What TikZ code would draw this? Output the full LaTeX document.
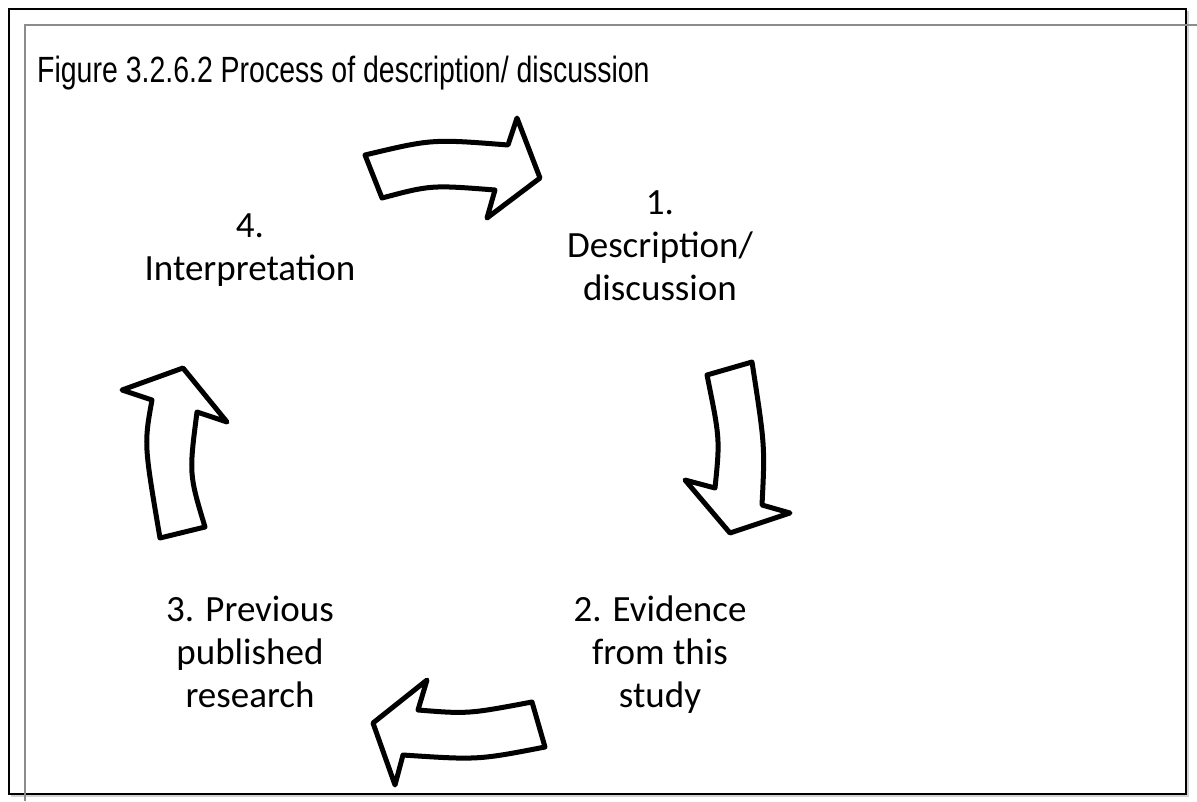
\documentclass[tikz,border=0pt]{standalone}
\usepackage{fontspec}
\setmainfont{Carlito}
\newfontfamily\titlefont[FakeStretch=0.78]{Liberation Sans}
\usetikzlibrary{positioning}

\begin{document}
\begin{tikzpicture}[x=1pt, y=-1pt,
    blockarrow/.style={draw=black, fill=white, line width=5pt, line join=round},
    steplabel/.style={align=center, inner sep=0pt, anchor=base, font=\fontsize{37}{43}\selectfont}]
  \useasboundingbox (0,0) rectangle (1197,801);

  % frame
  \draw[gray!35, line width=2pt] (1188,11) -- (1188,796) -- (11,796);
  \draw[black, line width=2.2pt] (9,9) rectangle (1186,794);
  \draw[gray!90, line width=2pt] (1197,25) -- (25,25) -- (25,801);

  \node[anchor=base west, inner sep=0pt, font=\titlefont\fontsize{36.5}{40}\selectfont] (title) at (37,82) {Figure 3.2.6.2 Process of description/ discussion};

  % steps (anchored on the baseline of the last line)
  \node[steplabel] (desc) at (660,300) {1.\\Description/\\discussion};
  \node[steplabel] (evid) at (660,707) {2. Evidence\\from this\\study};
  \node[steplabel] (prev) at (250,707) {3. Previous\\published\\research};
  \node[steplabel] (interp) at (250,280) {4.\\Interpretation};

  % block arrows
  \draw[blockarrow] (365,155) .. controls (432,139) .. (508,145) -- (517,118) -- (540,178)
    -- (487,218) -- (495,190) .. controls (431,185) .. (382,198) -- cycle;
  \draw[blockarrow] (707,375) -- (752,362) .. controls (765,446) .. (762,505) -- (790,513)
    -- (730,533) -- (685,480) -- (715,488) .. controls (720,439) .. (707,375) -- cycle;
  \draw[blockarrow] (532,702) -- (545,747) .. controls (478,760) .. (403,755) -- (395,785)
    -- (373,723) -- (427,680) -- (418,710) .. controls (468,714) .. (532,702) -- cycle;
  \draw[blockarrow] (160,538) -- (205,527) .. controls (189,474) .. (197,412) -- (227,422)
    -- (183,368) -- (122,390) -- (152,400) .. controls (144,444) .. (160,538) -- cycle;
\end{tikzpicture}
\end{document}
